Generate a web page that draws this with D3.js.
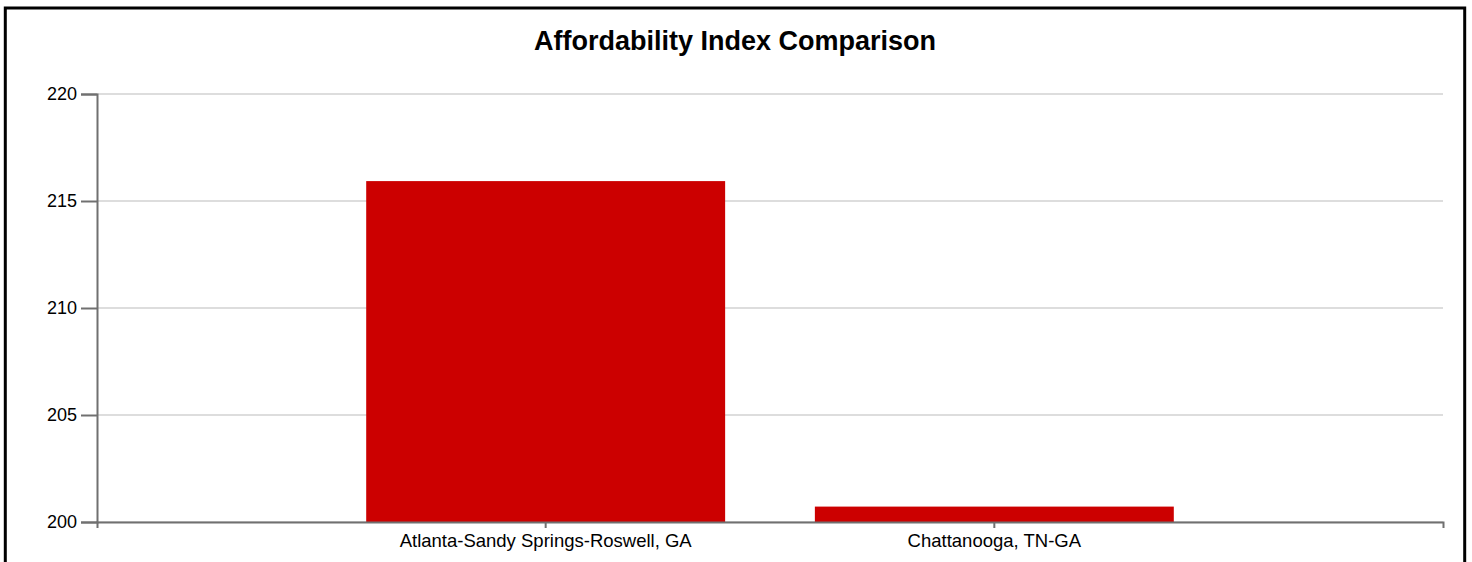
<!DOCTYPE html>
<html>
<head>
<meta charset="utf-8">
<script src="https://cdn.jsdelivr.net/npm/d3@7"></script>
<style>
  html, body { margin: 0; padding: 0; background: #fff; overflow: hidden; }
  svg { display: block; font-family: "Liberation Sans", Arial, sans-serif; }
</style>
</head>
<body>
<svg id="chart" width="1472" height="562"></svg>
<script>
// Metro areas and their affordability index values
const categories = ["Atlanta-Sandy Springs-Roswell, GA", "Chattanooga, TN-GA"];
const values = [215.93, 200.72];
const yTicks = [200, 205, 210, 215, 220];
const titleText = "Affordability Index Comparison";

const svg = d3.select("#chart");
const W = 1472, H = 562;
const margin = { left: 97, right: 29, top: 94, bottom: 40 };
const plotRight = W - margin.right;
const plotBottom = H - margin.bottom;

// Outer frame
svg.append("rect")
  .attr("x", 5.3).attr("y", 8)
  .attr("width", 1459.4).attr("height", 620)
  .attr("fill", "none").attr("stroke", "#000").attr("stroke-width", 3);

const x = d3.scaleBand()
  .domain(categories)
  .range([margin.left, plotRight])
  .paddingInner(0.2)
  .paddingOuter(0.6);

const y = d3.scaleLinear()
  .domain([200, 220])
  .range([plotBottom, margin.top]);

// Horizontal grid lines
svg.append("g").selectAll("line")
  .data(yTicks)
  .join("line")
  .attr("x1", margin.left).attr("x2", plotRight)
  .attr("y1", d => y(d)).attr("y2", d => y(d))
  .attr("stroke", "#dddddd").attr("stroke-width", 2);

// Bars
svg.append("g").selectAll("rect")
  .data(categories.map((c, i) => ({ c, v: values[i] })))
  .join("rect")
  .attr("x", d => x(d.c))
  .attr("width", x.bandwidth())
  .attr("y", d => y(d.v))
  .attr("height", d => y(200) - y(d.v))
  .attr("fill", "#cc0000");

// Y axis
const yAxis = svg.append("g")
  .attr("transform", `translate(${margin.left},0)`)
  .call(d3.axisLeft(y).tickValues(yTicks).tickFormat(d3.format("d")).tickSize(16).tickPadding(4));

// X axis
const xAxis = svg.append("g")
  .attr("transform", `translate(0,${plotBottom})`)
  .call(d3.axisBottom(x).tickSize(6).tickPadding(6));

[yAxis, xAxis].forEach(g => {
  g.selectAll("path, line").attr("stroke", "#707070").attr("stroke-width", 2);
  g.selectAll("text").attr("fill", "#000").style("font-size", "18px")
    .style("font-family", "'Liberation Sans', Arial, sans-serif");
});
xAxis.selectAll("text").style("font-size", "18.5px");

// Title
svg.append("text")
  .attr("x", 735).attr("y", 50)
  .attr("text-anchor", "middle")
  .style("font-size", "27px").style("font-weight", "bold")
  .attr("fill", "#000")
  .text(titleText);
</script>
</body>
</html>
